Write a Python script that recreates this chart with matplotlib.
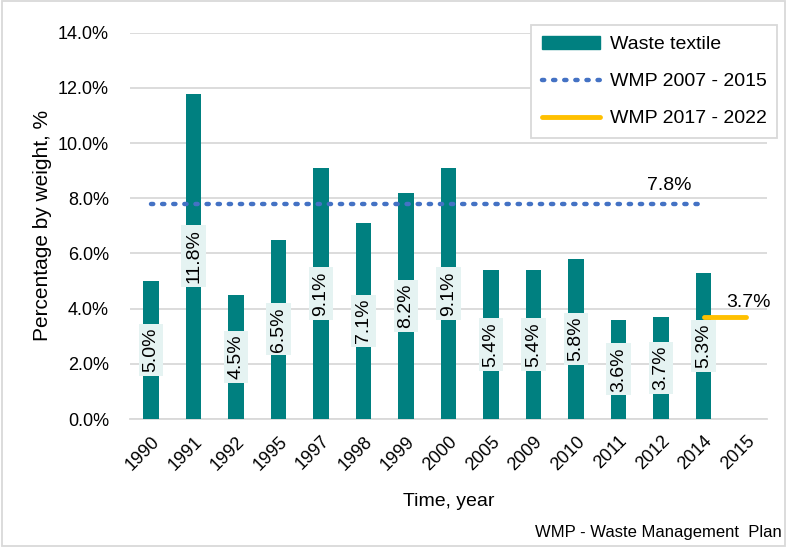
import matplotlib
matplotlib.use("Agg")
import matplotlib.pyplot as plt
from matplotlib.lines import Line2D
from matplotlib.patches import Patch

plt.rcParams['font.family'] = ['Liberation Sans', 'DejaVu Sans']

years = ['1990', '1991', '1992', '1995', '1997', '1998', '1999', '2000',
         '2005', '2009', '2010', '2011', '2012', '2014', '2015']
waste_textile = [5.0, 11.8, 4.5, 6.5, 9.1, 7.1, 8.2, 9.1,
                 5.4, 5.4, 5.8, 3.6, 3.7, 5.3, None]
wmp_2007_2015 = 7.8
wmp_2017_2022 = 3.7
ytick_labels = ['0.0%', '2.0%', '4.0%', '6.0%', '8.0%', '10.0%', '12.0%', '14.0%']

teal = '#008080'
blue = '#4472C4'
orange = '#FFC000'

fig = plt.figure(figsize=(7.87, 5.47), dpi=100)
ax = fig.add_axes([0.165, 0.234, 0.81, 0.706])

x = list(range(len(years)))
for i, v in enumerate(waste_textile):
    if v is None:
        continue
    ax.bar(i, v, width=0.37, color=teal, zorder=3)
    ax.text(i, v / 2, f'{v:.1f}%', rotation=90, ha='center', va='center',
            fontsize=14, color='black', zorder=4,
            bbox=dict(boxstyle='square,pad=0.2', fc='#E5F3F2', ec='none'))

ax.plot([0, 13], [wmp_2007_2015, wmp_2007_2015], color=blue, linestyle=(0, (0.5, 2.0)),
        linewidth=3.2, dash_capstyle='round', zorder=5)
ax.plot([13, 14], [wmp_2017_2022, wmp_2017_2022], color=orange, linewidth=3.5,
        solid_capstyle='round', zorder=5)
ax.text(12.2, wmp_2007_2015 + 0.35, f'{wmp_2007_2015:.1f}%', fontsize=14, ha='center', va='bottom')
ax.text(14.05, wmp_2017_2022 + 0.2, f'{wmp_2017_2022:.1f}%', fontsize=14, ha='center', va='bottom')

ax.set_xlim(-0.5, len(years) - 0.5)
ax.set_ylim(0, 14)
ax.set_xticks(x)
ax.set_xticklabels(years, rotation=45, ha='right', rotation_mode='anchor', fontsize=13)
ax.set_yticks(range(0, 15, 2))
ax.set_yticklabels(ytick_labels, fontsize=13)
ax.tick_params(axis='y', length=0, pad=15)
ax.tick_params(axis='x', length=0, pad=10)
ax.grid(axis='y', color='#D9D9D9', linewidth=1.3, zorder=0)
ax.set_axisbelow(True)
for s in ['left', 'right', 'top']:
    ax.spines[s].set_visible(False)
ax.spines['bottom'].set_color('#D9D9D9')
ax.spines['bottom'].set_linewidth(1.3)

ax.set_xlabel('Time, year', fontsize=14, labelpad=14)
ax.set_ylabel('Percentage by weight, %', fontsize=15, labelpad=4)

handles = [Patch(color=teal),
           Line2D([0], [0], color=blue, linestyle=(0, (0.5, 2.0)), linewidth=3.2, dash_capstyle='round'),
           Line2D([0], [0], color=orange, linewidth=3.5, solid_capstyle='round')]
leg = fig.legend(handles, ['Waste textile', 'WMP 2007 - 2015', 'WMP 2017 - 2022'],
                 loc='upper right', bbox_to_anchor=(1.0, 0.972), fontsize=14,
                 frameon=True, fancybox=False, edgecolor='#D9D9D9', framealpha=1,
                 handlelength=3.0, handletextpad=0.5, labelspacing=1.0, borderpad=0.55)
leg.get_frame().set_linewidth(1.3)

fig.text(0.993, 0.012, 'WMP - Waste Management  Plan', fontsize=12, ha='right', va='bottom')

border = plt.Rectangle((0.002, 0.002), 0.996, 0.996, transform=fig.transFigure,
                       fill=False, ec='#D9D9D9', lw=1.3)
fig.patches.append(border)

fig.savefig('out.png', dpi=100)
